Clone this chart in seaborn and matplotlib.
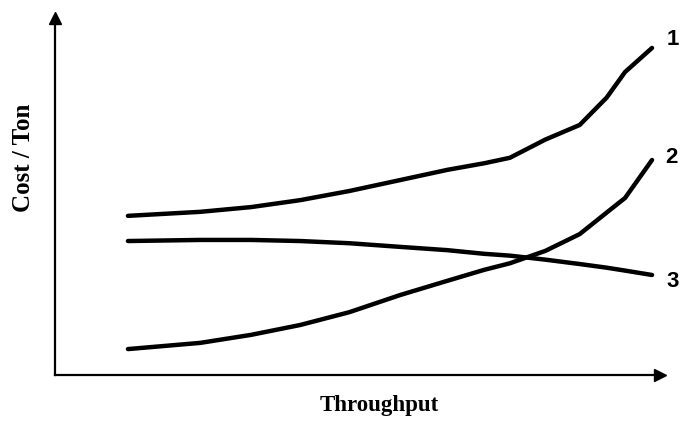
import numpy as np
import pandas as pd
import seaborn as sns
import matplotlib.pyplot as plt

# Throughput (arbitrary units, 0-100) and cost/ton for the three curves
throughput = [11.9, 23.7, 32.0, 40.0, 48.0, 56.3, 64.0, 70.0, 74.2, 80.0, 85.6, 90.0, 93.0, 97.4]
cost_1 = [43.6, 44.7, 46.0, 47.9, 50.4, 53.4, 56.2, 58.0, 59.5, 64.5, 68.5, 76.0, 83.0, 89.6]
cost_2 = [7.1, 8.8, 11.0, 13.7, 17.2, 21.9, 25.8, 28.8, 30.6, 34.0, 38.6, 44.5, 48.5, 58.9]
cost_3 = [36.7, 37.0, 37.0, 36.7, 36.1, 35.1, 34.2, 33.2, 32.7, 31.6, 30.4, 29.4, 28.6, 27.4]
curve_labels = ['1', '2', '3']


def draw_chart():
    sns.set_theme(style='white')
    fig = plt.figure(figsize=(6.83, 4.21), dpi=100)
    # axes box in pixels: x 55..660, y 18..375 (arrow heads stick out past it)
    ax = fig.add_axes([55 / 683, 46 / 421, 605 / 683, 357 / 421])

    series = [cost_1, cost_2, cost_3]
    offsets = [(15, 6), (14, 2), (15, -5)]
    for vals, lab, off in zip(series, curve_labels, offsets):
        df = pd.DataFrame({'Throughput': throughput, 'Cost': vals})
        sns.lineplot(data=df, x='Throughput', y='Cost', color='black',
                     linewidth=3.2, ax=ax, solid_capstyle='round')
        ax.annotate(lab, (throughput[-1], vals[-1]), xytext=off,
                    textcoords='offset points', ha='center', va='center',
                    fontsize=16, fontweight='bold', family='Liberation Sans',
                    color='black')

    ax.set_xlim(0, 98.7)
    ax.set_ylim(0, 97.8)
    ax.set_xticks([])
    ax.set_yticks([])
    ax.set_xlabel('')
    ax.set_ylabel('')
    for side in ['top', 'right']:
        ax.spines[side].set_visible(False)
    for side in ['left', 'bottom']:
        ax.spines[side].set_color('black')
        ax.spines[side].set_linewidth(1.6)

    # arrow heads on the axes
    ax.plot(1, 0, '>', color='black', markersize=8, transform=ax.transAxes, clip_on=False)
    ax.plot(0, 1, '^', color='black', markersize=8, transform=ax.transAxes, clip_on=False)

    fig.text(379 / 683, 1 - 405 / 421, 'Throughput', ha='center', va='center',
             fontsize=16.5, fontweight='bold', family='Liberation Serif', color='black')
    fig.text(24 / 683, 1 - 158 / 421, 'Cost / Ton', ha='center', va='center',
             rotation=90, fontsize=18, fontweight='bold', family='Liberation Serif',
             color='black')

    fig.savefig('out.png', dpi=100)


if __name__ == '__main__':
    draw_chart()
